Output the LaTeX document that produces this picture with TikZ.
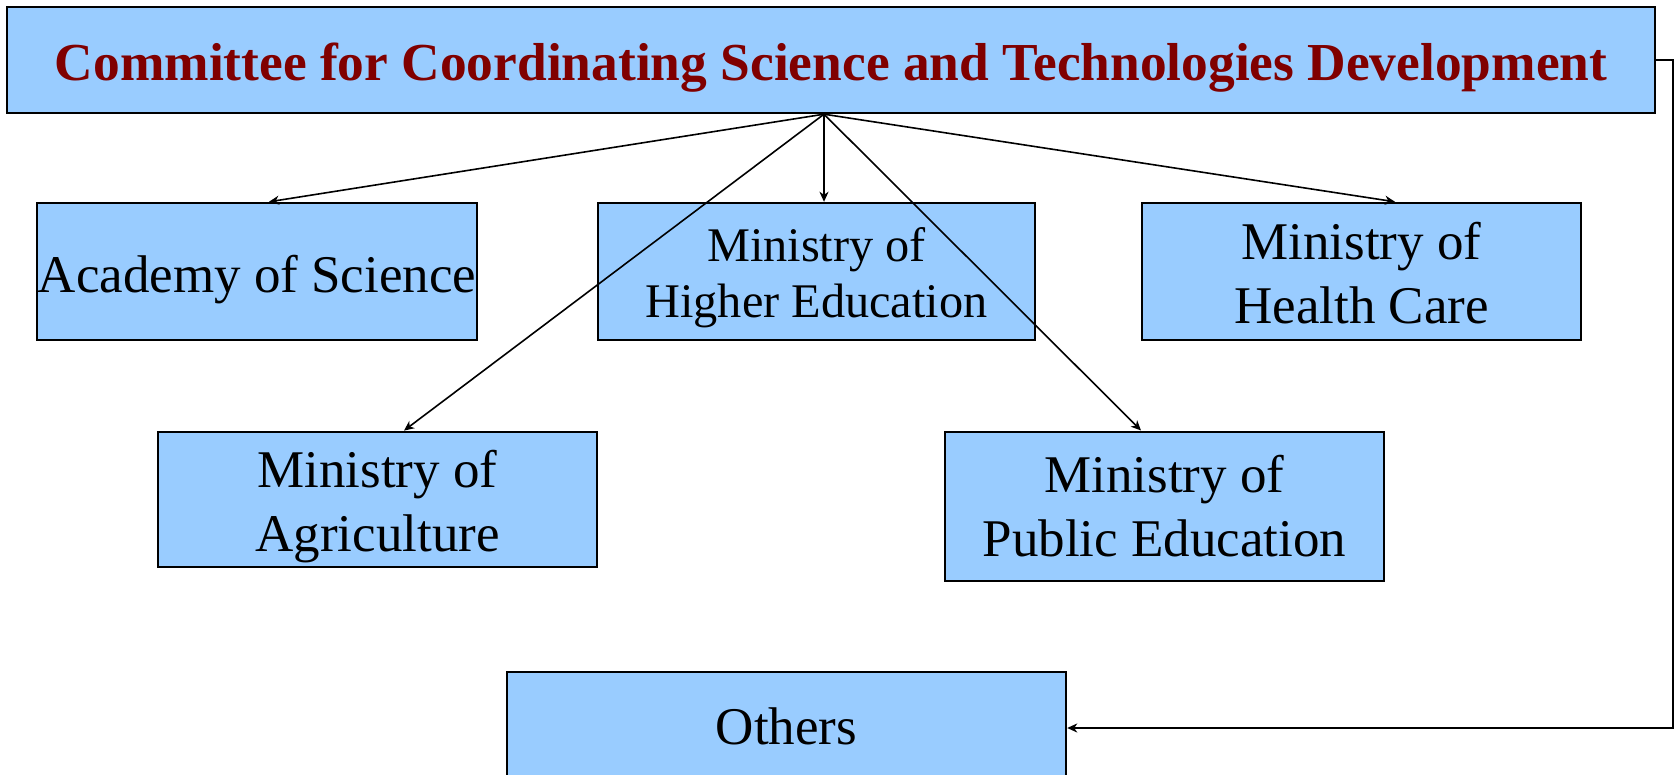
\documentclass[tikz,border=0pt]{standalone}
\usepackage{fontspec}
\setmainfont{Liberation Serif}
\usetikzlibrary{arrows.meta}
\definecolor{boxblue}{HTML}{99CCFF}
\definecolor{titlered}{HTML}{800000}
\begin{document}
\begin{tikzpicture}[x=1pt,y=-1pt,
  orgbox/.style={draw=black, line width=2.4pt, fill=boxblue, inner sep=0pt},
  lbl/.style={inner sep=0pt, align=center, font=\fontsize{53}{63.8}\selectfont},
  conn/.style={line width=1.6pt, -{Stealth[length=10pt,width=9pt,inset=3pt]}}]
\clip (0,0) rectangle (1677,775);
% boxes
\node[orgbox, minimum width=1648pt, minimum height=106pt] (top) at (831,60) {};
\node[orgbox, minimum width=440pt, minimum height=137pt] (acad) at (257,271.5) {};
\node[orgbox, minimum width=437pt, minimum height=137pt] (higher) at (816.5,271.5) {};
\node[orgbox, minimum width=439pt, minimum height=137pt] (health) at (1361.5,271.5) {};
\node[orgbox, minimum width=439pt, minimum height=135pt] (agri) at (377.5,499.3) {};
\node[orgbox, minimum width=439pt, minimum height=149pt] (pub) at (1164.5,506.2) {};
\node[orgbox, minimum width=559pt, minimum height=112pt] (others) at (786.5,728) {};
% texts
\node[lbl, font=\fontsize{53.4}{64}\selectfont\bfseries, text=titlered] (topt) at ([yshift=-7.5pt]top.center)
  {Committee for Coordinating Science and Technologies Development};
\node[lbl] (acadt) at ([yshift=-8pt]acad.center) {Academy of Science};
\node[lbl, font=\fontsize{48.3}{56}\selectfont] (highert) at ([yshift=-6pt]higher.center) {Ministry of\\Higher Education};
\node[lbl] (healtht) at ([yshift=-2pt]health.center) {Ministry of\\Health Care};
\node[lbl] (agrit) at ([yshift=-7.5pt]agri.center) {Ministry of\\Agriculture};
\node[lbl] (pubt) at (pub.center) {Ministry of\\Public Education};
\node[lbl] (otherst) at ([yshift=2pt]others.center) {Others};
% connectors
\coordinate (o) at ([xshift=-7pt]top.south);
\coordinate (rc) at (1673,0);
\draw[conn] (o) -- ([xshift=12pt]acad.north);
\draw[conn] (o) -- ([xshift=7.5pt]higher.north);
\draw[conn] (o) -- ([xshift=33.5pt]health.north);
\draw[conn] (o) -- ([xshift=26.5pt]agri.north);
\draw[conn] (o) -- ([xshift=-23.5pt]pub.north);
\draw[conn] (top.east) -- (top.east -| rc) |- (others.east);
\end{tikzpicture}
\end{document}
